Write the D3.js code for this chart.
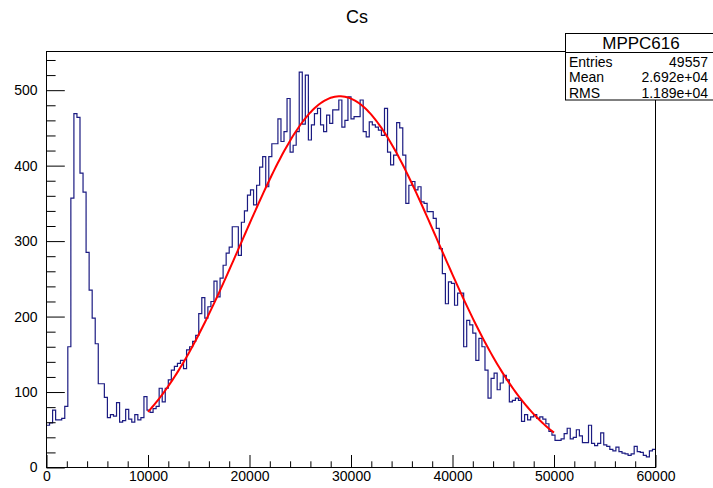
<!DOCTYPE html>
<html>
<head>
<meta charset="utf-8">
<script src="https://cdn.jsdelivr.net/npm/d3@7"></script>
<style>
  html, body { margin: 0; padding: 0; background: #fff; }
  svg { display: block; font-family: "Liberation Sans", Arial, Helvetica, sans-serif; }
</style>
</head>
<body>
<svg id="chart" width="713" height="488"></svg>
<script>
// ---- histogram definition -------------------------------------------------
const plotTitle = "Cs";
const histName = "MPPC616";
const xRange = [0, 60000];          // 200 bins of 300 channels
const yMax = 551.25;                // ROOT: 1.05 * maximum bin content

const counts = [
  56, 59, 76, 63, 63, 65, 81, 160, 357, 469,
  464, 390, 365, 285, 235, 198, 164, 111, 111, 93,
  66, 70, 68, 86, 60, 62, 77, 64, 60, 70,
  63, 66, 94, 76, 73, 78, 81, 105, 87, 105,
  116, 129, 134, 138, 142, 131, 156, 160, 167, 175,
  204, 225, 198, 213, 220, 247, 226, 251, 268, 284,
  292, 319, 319, 281, 325, 340, 361, 368, 348, 374,
  398, 412, 372, 412, 429, 429, 462, 432, 445, 489,
  418, 427, 445, 524, 455, 520, 434, 454, 469, 476,
  454, 445, 467, 456, 474, 474, 487, 451, 460, 491,
  462, 465, 465, 487, 445, 438, 458, 454, 451, 447,
  440, 476, 418, 401, 414, 457, 450, 414, 350, 374,
  379, 368, 372, 352, 350, 339, 339, 330, 317, 290,
  257, 217, 246, 244, 215, 231, 231, 160, 195, 189,
  178, 142, 171, 160, 129, 92, 118, 125, 103, 112,
  122, 116, 87, 89, 92, 89, 61, 70, 63, 67,
  70, 65, 67, 64, 58, 48, 43, 36, 36, 38,
  45, 52, 38, 40, 50, 42, 33, 33, 56, 32,
  29, 32, 46, 30, 28, 24, 22, 27, 21, 19,
  18, 16, 18, 28, 21, 20, 16, 14, 22, 24
];

const xTickValues = [0, 10000, 20000, 30000, 40000, 50000, 60000];
const yTickValues = [0, 100, 200, 300, 400, 500];

// statistics box
const statLabels = ["Entries", "Mean", "RMS"];
const statValues = ["49557", "2.692e+04", "1.189e+04"];

// gaussian fit result
const fitConstant = 492;
const fitMean = 28900;
const fitSigma = 9700;
const fitRange = [10000, 50000];

// ---- drawing ----------------------------------------------------------------
const svg = d3.select("#chart");
const frame = { left: 46.5, right: 655.5, top: 51.5, bottom: 467.5 };

const x = d3.scaleLinear().domain(xRange).range([frame.left, frame.right]);
const y = d3.scaleLinear().domain([0, yMax]).range([frame.bottom, frame.top]);

const nBins = counts.length;
const binWidth = (xRange[1] - xRange[0]) / nBins;

// title
svg.append("text")
  .attr("x", 357).attr("y", 23)
  .attr("text-anchor", "middle")
  .attr("font-size", 18)
  .attr("fill", "#000")
  .text(plotTitle);

// histogram outline (step line)
const stepPts = [];
counts.forEach((c, i) => {
  stepPts.push([x(xRange[0] + i * binWidth), y(c)]);
  stepPts.push([x(xRange[0] + (i + 1) * binWidth), y(c)]);
});
svg.append("path")
  .attr("d", d3.line()(stepPts))
  .attr("fill", "none")
  .attr("stroke", "#1b1b82")
  .attr("stroke-width", 1.2);

// gaussian fit curve
const gaus = v => fitConstant * Math.exp(-0.5 * Math.pow((v - fitMean) / fitSigma, 2));
const fitPts = d3.range(0, 201).map(k => {
  const v = fitRange[0] + (fitRange[1] - fitRange[0]) * k / 200;
  return [x(v), y(gaus(v))];
});
svg.append("path")
  .attr("d", d3.line().curve(d3.curveLinear)(fitPts))
  .attr("fill", "none")
  .attr("stroke", "#ff0000")
  .attr("stroke-width", 2);

// x axis: major and minor ticks pointing into the frame
const xMinor = d3.range(xRange[0], xRange[1] + 1, 2000).filter(v => v % 10000 !== 0);
const xAxisG = svg.append("g").attr("transform", `translate(0,${frame.bottom})`);
xAxisG.call(d3.axisBottom(x).tickValues(xTickValues).tickSize(-12.5).tickPadding(4).tickFormat(d3.format("d")));
xAxisG.append("g").call(d3.axisBottom(x).tickValues(xMinor).tickSize(-6.2).tickFormat(""));
xAxisG.selectAll(".domain").remove();
xAxisG.selectAll("text").attr("font-size", 14).attr("fill", "#000").attr("font-family", "Liberation Sans, Arial, sans-serif");
xAxisG.selectAll("line").attr("stroke", "#000");

// y axis
const yMinor = d3.range(0, yMax, 20).filter(v => v % 100 !== 0);
const yAxisG = svg.append("g").attr("transform", `translate(${frame.left},0)`);
yAxisG.call(d3.axisLeft(y).tickValues(yTickValues).tickSize(-18.3).tickPadding(9).tickFormat(d3.format("d")));
yAxisG.append("g").call(d3.axisLeft(y).tickValues(yMinor).tickSize(-9.1).tickFormat(""));
yAxisG.selectAll(".domain").remove();
yAxisG.selectAll("text").attr("font-size", 14).attr("fill", "#000").attr("font-family", "Liberation Sans, Arial, sans-serif");
yAxisG.selectAll("line").attr("stroke", "#000");

// frame
svg.append("rect")
  .attr("x", frame.left).attr("y", frame.top)
  .attr("width", frame.right - frame.left)
  .attr("height", frame.bottom - frame.top)
  .attr("fill", "none")
  .attr("stroke", "#000")
  .attr("stroke-width", 1);

// statistics box
const box = { x: 565.5, y: 33.5, w: 160, h: 66.5, head: 19 };
const statG = svg.append("g");
statG.append("rect")
  .attr("x", box.x).attr("y", box.y)
  .attr("width", box.w).attr("height", box.h)
  .attr("fill", "#fff").attr("stroke", "#000").attr("stroke-width", 1);
statG.append("line")
  .attr("x1", box.x).attr("x2", box.x + box.w)
  .attr("y1", box.y + box.head).attr("y2", box.y + box.head)
  .attr("stroke", "#000");
statG.append("text")
  .attr("x", 641).attr("y", box.y + 15.5)
  .attr("text-anchor", "middle")
  .attr("font-size", 17)
  .text(histName);
statLabels.forEach((lab, i) => {
  const ty = box.y + box.head + 14 + i * 15.8;
  statG.append("text").attr("x", 569).attr("y", ty).attr("font-size", 14).text(lab);
  statG.append("text").attr("x", 708).attr("y", ty).attr("text-anchor", "end").attr("font-size", 14).text(statValues[i]);
});
</script>
</body>
</html>
